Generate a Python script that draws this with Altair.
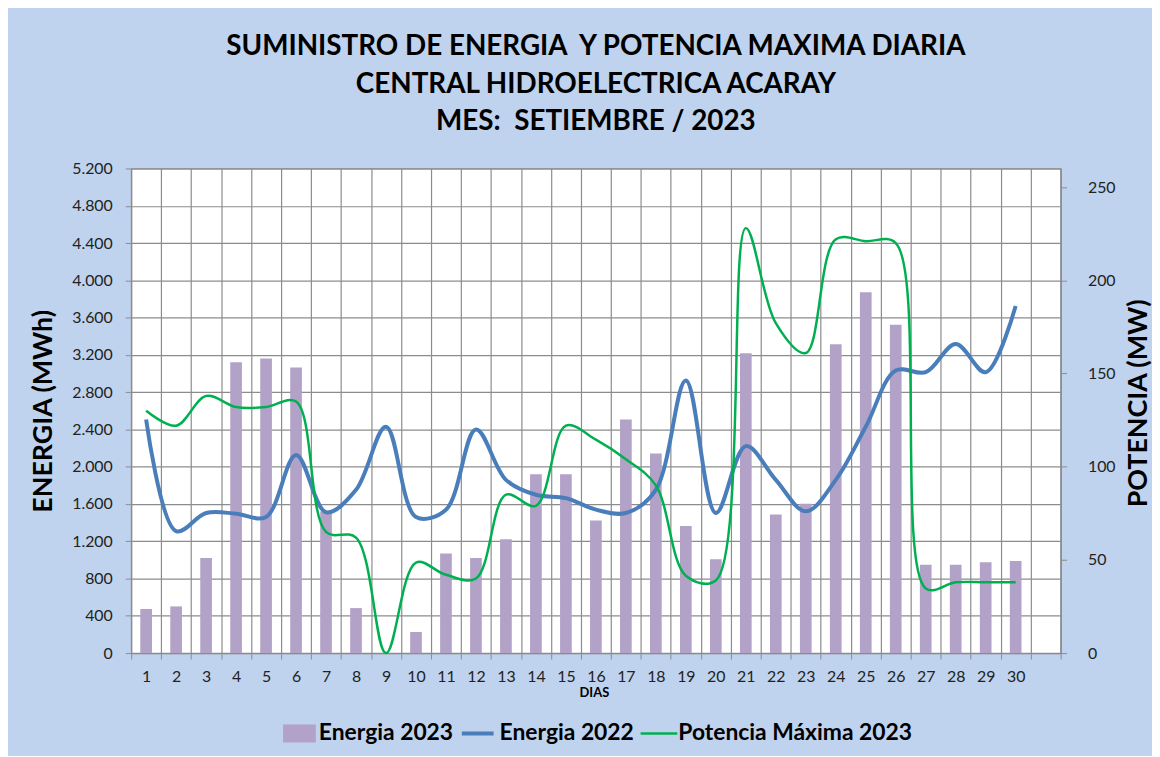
import altair as alt
import pandas as pd

# ---------------- data ----------------
days = [str(d) for d in range(1, 31)]
days_domain = [str(d) for d in range(1, 32)]  # template has 31 slots

energia_2023 = [473, 501, 1020, 3121, 3160, 3064, 1520, 483, 0, 227,
                1070, 1020, 1223, 1919, 1919, 1422, 2506, 2143, 1365, 1006,
                3217, 1486, 1603, 3313, 3871, 3522, 949, 949, 974, 988]

energia_2022 = [2506, 1308, 1503, 1496, 1461, 2126, 1511, 1752, 2428, 1460,
                1539, 2399, 1859, 1699, 1663, 1539, 1503, 1752, 2925, 1503,
                2221, 1859, 1521, 1859, 2428, 3032, 3014, 3316, 3014, 3725]

potencia_2023 = [130, 122, 138, 132, 132, 135, 65, 62, 0, 48.6,
                 42, 40, 85, 79, 122, 114.5, 104, 90, 41.5, 39,
                 228, 177, 161, 222, 221, 220, 34.7, 38, 38, 38]

title_lines = ["SUMINISTRO DE ENERGIA \u00a0Y POTENCIA MAXIMA DIARIA",
               "CENTRAL HIDROELECTRICA ACARAY",
               "MES: \u00a0SETIEMBRE / 2023"]
legend_labels = ["Energia 2023", "Energia 2022", "Potencia Máxima 2023"]

left_ticks = list(range(0, 5201, 400))
right_ticks = list(range(0, 251, 50))

df = pd.DataFrame({"dia": days, "e23": energia_2023,
                   "e22": energia_2022, "pot": potencia_2023})

C_BAR = "#b3a2c7"
C_BLUE = "#4a7ebb"
C_GREEN = "#00b050"
C_GRID = "#8c8c8c"
FONT = "Lato"

W, H = 936, 488

xscale = alt.Scale(domain=days_domain, paddingInner=0, paddingOuter=0)
yleft = alt.Scale(domain=[0, 5200], nice=False)

x_axis = alt.Axis(
    title="DIAS", titleFont=FONT, titleFontSize=13, titleFontWeight="bold",
    titleColor="black", titleX=W / 2 - 2, titleY=40, titleBaseline="middle",
    labelAngle=0, labelFont=FONT, labelFontSize=16, labelColor="#222",
    labelPadding=10, labelExpr="datum.label == '31' ? '' : datum.label",
    tickBand="extent", tickSize=6, tickColor=C_GRID, domainColor=C_GRID,
    grid=True, gridColor=C_GRID, gridWidth=1.2,
)

left_axis = alt.Axis(
    values=left_ticks, labelOverlap=False, title="ENERGIA (MWh)", titleFont=FONT,
    titleFontSize=27, titleFontWeight="bold", titleColor="black",
    titleAngle=270, titleX=-88, titleY=H / 2, titleAlign="center",
    titleBaseline="middle",
    labelExpr="replace(format(datum.value, ','), ',', '.')",
    labelFont=FONT, labelFontSize=16, labelColor="#222",
    labelPadding=13, tickSize=6, tickColor=C_GRID,
    domainColor=C_GRID, grid=True, gridColor=C_GRID, gridWidth=1.2)

bars = alt.Chart(df).mark_bar(width=alt.RelativeBandSize(0.39), color=C_BAR).encode(
    x=alt.X("dia:O", scale=xscale, axis=x_axis),
    y=alt.Y("e23:Q", scale=yleft, axis=left_axis),
)

blue = alt.Chart(df).mark_line(color=C_BLUE, strokeWidth=4,
                               interpolate="catmull-rom").encode(
    x=alt.X("dia:O", scale=xscale, axis=x_axis),
    y=alt.Y("e22:Q", scale=yleft, axis=left_axis),
)

green = alt.Chart(df).mark_line(color=C_GREEN, strokeWidth=2.5,
                                interpolate="catmull-rom").encode(
    x=alt.X("dia:O", scale=xscale, axis=x_axis),
    y=alt.Y("pot:Q", scale=alt.Scale(domain=[0, 260], nice=False),
            axis=alt.Axis(
                orient="right", values=right_ticks, labelOverlap=False,
                title="POTENCIA (MW)",
                titleFont=FONT, titleFontSize=27, titleFontWeight="bold",
                titleColor="black", titleAngle=270, titleX=78, titleY=H / 2 - 8,
                titleAlign="center", titleBaseline="middle",
                labelFont=FONT, labelFontSize=16, labelColor="#222",
                labelPadding=21, tickSize=6, tickColor=C_GRID,
                domainColor=C_GRID, grid=False)),
)

# ---------------- manual legend (layout only) ----------------
leg_y = 569
leg_df = pd.DataFrame({"t": legend_labels, "px": [189, 371, 551]})
leg_text = alt.Chart(leg_df).mark_text(
    align="left", baseline="middle", font=FONT, fontSize=23,
    fontWeight="bold", color="black").encode(
    x=alt.X("px:Q", scale=None), y=alt.value(leg_y), text="t:N")

leg_sq = alt.Chart(pd.DataFrame({"t": [legend_labels[0]]})).mark_rect(color=C_BAR).encode(
    x=alt.value(153), x2=alt.value(186), y=alt.value(leg_y - 9), y2=alt.value(leg_y + 9))
leg_blue = alt.Chart(pd.DataFrame({"t": [legend_labels[1]]})).mark_rule(
    color=C_BLUE, strokeWidth=4).encode(
    x=alt.value(333), x2=alt.value(365), y=alt.value(leg_y))
leg_green = alt.Chart(pd.DataFrame({"t": [legend_labels[2]]})).mark_rule(
    color=C_GREEN, strokeWidth=2.5).encode(
    x=alt.value(513), x2=alt.value(550), y=alt.value(leg_y))

left_layer = alt.layer(bars, blue)
main = alt.layer(left_layer, green).resolve_scale(y="independent")

chart = alt.layer(main, leg_sq, leg_blue, leg_green, leg_text).properties(
    width=W, height=H,
    title=alt.TitleParams(text=title_lines, font=FONT, fontSize=28,
                          fontWeight="bold", color="black", anchor="middle",
                          lineHeight=37.5, offset=25),
    autosize=alt.AutoSizeParams(type="none"),
    padding={"left": 124, "top": 159, "right": 92, "bottom": 101},
).configure(background="#bfd3ee").configure_view(
    fill="white", stroke=C_GRID, strokeWidth=1.2)

chart.save("out.html", embed_options={"renderer": "svg", "actions": False})
